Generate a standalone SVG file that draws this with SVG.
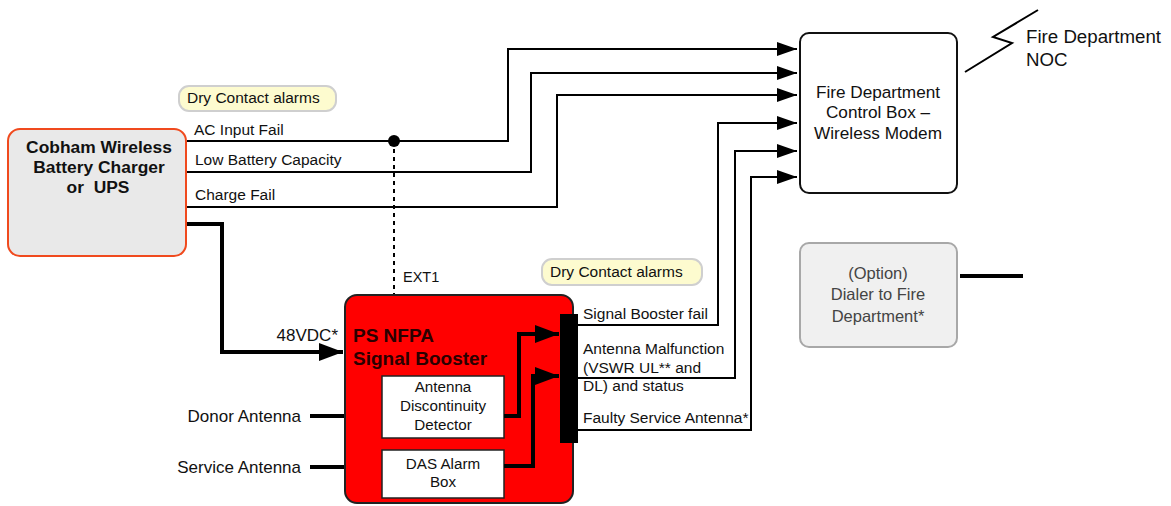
<svg xmlns="http://www.w3.org/2000/svg" width="1171" height="506" viewBox="0 0 1171 506">
<defs>
<marker id="ah" markerWidth="20" markerHeight="14" refX="20" refY="7" orient="auto" markerUnits="userSpaceOnUse"><path d="M0,0 L20,7 L0,14 Z" fill="#000"/></marker>
<marker id="ahb" markerWidth="24" markerHeight="18" refX="24" refY="9" orient="auto" markerUnits="userSpaceOnUse"><path d="M0,0 L24,9 L0,18 Z" fill="#000"/></marker>
<style>
text{font-family:"Liberation Sans",Arial,sans-serif;fill:#111;}
.lbl{font-size:15.5px;}
.ant{font-size:17px;}
.ctr{font-size:15.2px;text-anchor:middle;}
.big{font-size:17.2px;text-anchor:middle;}
.dia{font-size:16.5px;text-anchor:middle;fill:#444;}
.thin{fill:none;stroke:#000;stroke-width:2;}
.thick{fill:none;stroke:#000;stroke-width:4;}
.note{fill:#fdfbcf;stroke:#cfcfcf;stroke-width:2;}
</style>
</defs>
<rect width="1171" height="506" fill="#fff"/>

<g id="note1"><rect class="note" x="179" y="86" width="157" height="25" rx="10"/><text class="lbl" x="187" y="103">Dry Contact alarms</text></g>
<g id="note2"><rect class="note" x="542" y="259" width="160" height="26" rx="10"/><text class="lbl" x="550" y="277">Dry Contact alarms</text></g>

<g id="connectors">
<path class="thin" d="M187,141 H508 V49 H797" marker-end="url(#ah)"/>
<path class="thin" d="M187,172 H531 V73 H797" marker-end="url(#ah)"/>
<path class="thin" d="M187,207 H557 V95 H797" marker-end="url(#ah)"/>
<path class="thin" d="M578,325 H718 V123 H797" marker-end="url(#ah)"/>
<path class="thin" d="M578,378 H735 V151 H797" marker-end="url(#ah)"/>
<path class="thin" d="M578,430 H751 V177 H797" marker-end="url(#ah)"/>
<line x1="394" y1="141" x2="394" y2="294" stroke="#000" stroke-width="2" stroke-dasharray="4,4"/>
<circle cx="394" cy="141" r="6" fill="#000"/>
<path class="thick" d="M187,224 H222 V352 H343" marker-end="url(#ahb)"/>
<line class="thick" x1="310" y1="416" x2="382" y2="416"/>
<line class="thick" x1="310" y1="467" x2="382" y2="467"/>
<line class="thick" x1="960" y1="276" x2="1023" y2="276"/>
<path fill="none" stroke="#000" stroke-width="2" d="M1038,10 L993,37 L1012,43 L965,72"/>
</g>

<g id="cobham"><rect x="8" y="129" width="178" height="127" rx="12" fill="#e9e9e9" stroke="#f04a1e" stroke-width="2"/>
<text x="99" y="153" text-anchor="middle" font-size="17.4" font-weight="bold">Cobham Wireless</text>
<text x="99" y="173" text-anchor="middle" font-size="17.4" font-weight="bold">Battery Charger</text>
<text x="98" y="193" text-anchor="middle" font-size="17.4" font-weight="bold" style="white-space:pre">or  UPS</text></g>

<g id="alarm-labels">
<text class="lbl" x="194" y="135">AC Input Fail</text>
<text class="lbl" x="195" y="165">Low Battery Capacity</text>
<text class="lbl" x="195" y="200">Charge Fail</text>
<text x="403" y="282" font-size="14.5">EXT1</text>
<text class="ant" x="338" y="341" text-anchor="end">48VDC*</text>
<text class="ant" x="301" y="422" text-anchor="end">Donor Antenna</text>
<text class="ant" x="301" y="473" text-anchor="end">Service Antenna</text>
<text class="lbl" x="583" y="319">Signal Booster fail</text>
<text class="lbl" x="583" y="354">Antenna Malfunction</text>
<text class="lbl" x="583" y="373">(VSWR UL** and</text>
<text class="lbl" x="583" y="391">DL) and status</text>
<text class="lbl" x="583" y="423">Faulty Service Antenna*</text>
</g>

<g id="booster">
<rect x="345" y="295" width="228" height="208" rx="12" fill="#ff0000" stroke="#222" stroke-width="2"/>
<text x="353" y="342" font-size="19" font-weight="bold" style="fill:#2a0000">PS NFPA</text>
<text x="353" y="365" font-size="19" font-weight="bold" style="fill:#2a0000">Signal Booster</text>
<rect x="560" y="314" width="18" height="129" fill="#000"/>
</g>

<g id="detector"><rect x="382" y="376" width="122" height="62" fill="#fff" stroke="#222" stroke-width="1.5"/>
<text class="ctr" x="443" y="392">Antenna</text>
<text class="ctr" x="443" y="411">Discontinuity</text>
<text class="ctr" x="443" y="430">Detector</text></g>

<g id="das"><rect x="382" y="450" width="122" height="48" fill="#fff" stroke="#222" stroke-width="1.5"/>
<text class="ctr" x="443" y="469">DAS Alarm</text>
<text class="ctr" x="443" y="487">Box</text></g>

<g id="internal-connectors">
<path class="thick" d="M504,416 H519 V334 H559" marker-end="url(#ahb)"/>
<path class="thick" d="M504,466 H533 V376 H559" marker-end="url(#ahb)"/>
</g>

<g id="control-box"><rect x="800" y="33" width="157" height="160" rx="9" fill="#fff" stroke="#111" stroke-width="2"/>
<text class="big" x="878" y="98">Fire Department</text>
<text class="big" x="878" y="118">Control Box –</text>
<text class="big" x="878" y="139">Wireless Modem</text></g>

<g id="noc"><text x="1026" y="43" font-size="18.7">Fire Department</text><text x="1026" y="66" font-size="18.7">NOC</text></g>

<g id="dialer"><rect x="800" y="243" width="157" height="104" rx="9" fill="#f0f0f0" stroke="#a8a8a8" stroke-width="2"/>
<text class="dia" x="878" y="279">(Option)</text>
<text class="dia" x="878" y="300">Dialer to Fire</text>
<text class="dia" x="878" y="322">Department*</text></g>
</svg>
